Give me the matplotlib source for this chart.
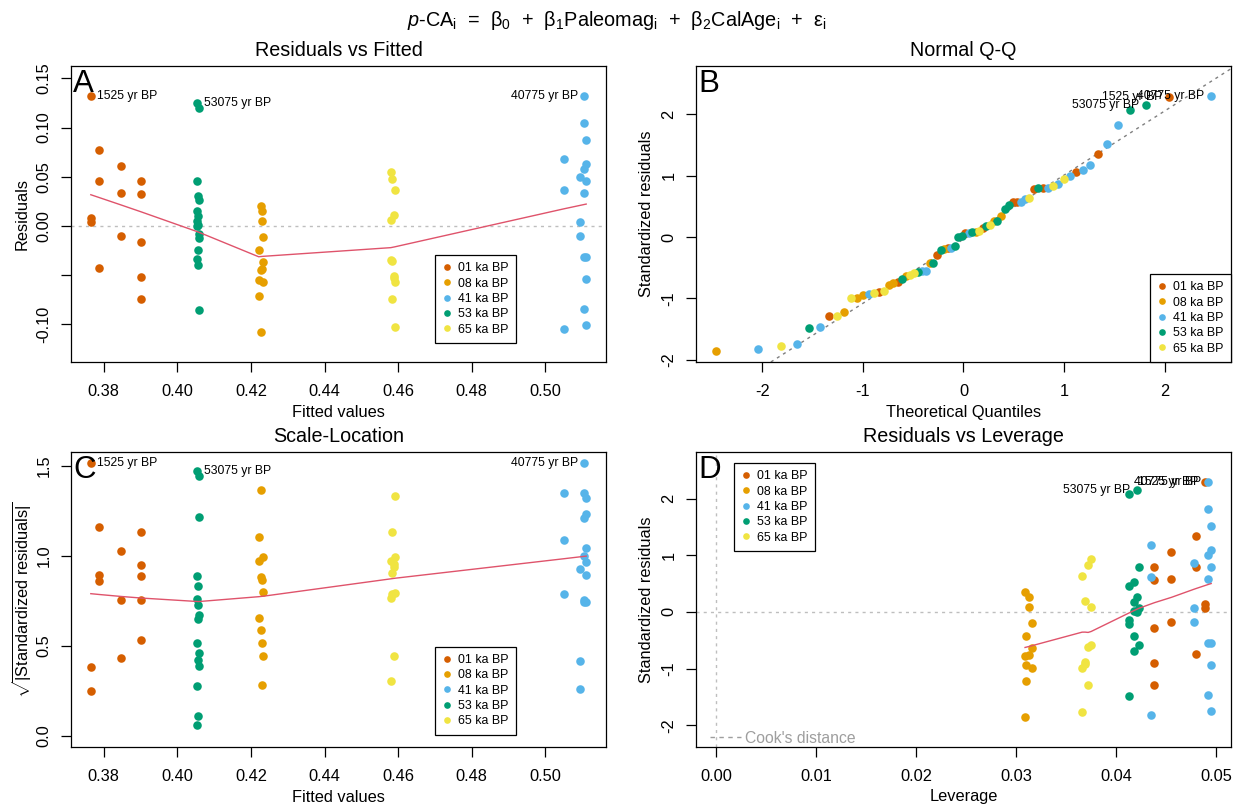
import numpy as np
import matplotlib
matplotlib.use("Agg")
import matplotlib.pyplot as plt
from matplotlib.lines import Line2D
from statistics import NormalDist

plt.rcParams['font.family'] = ['Liberation Sans', 'DejaVu Sans']
plt.rcParams['mathtext.fontset'] = 'custom'
plt.rcParams['mathtext.rm'] = 'Liberation Sans'
plt.rcParams['mathtext.it'] = 'Liberation Sans:italic'
plt.rcParams['mathtext.bf'] = 'Liberation Sans:bold'

# ------------------------------------------------------------------ data
group_names = ["01 ka BP", "08 ka BP", "41 ka BP", "53 ka BP", "65 ka BP"]
group_colors = ["#D55E00", "#E69F00", "#56B4E9", "#009E73", "#F0E442"]

fitted_01ka = [0.3765, 0.3765, 0.3765, 0.3788, 0.3788, 0.3788, 0.3847, 0.3847, 0.3847,
               0.3902, 0.3902, 0.3902, 0.3902, 0.3902]
resid_01ka = [0.1318, 0.0085, 0.0036, 0.0775, 0.0460, -0.0425, 0.0610, 0.0330, -0.0107,
              0.0455, 0.0328, -0.0165, -0.0520, -0.0743]
lev_01ka = [0.0489, 0.0489, 0.0489, 0.0480, 0.0480, 0.0480, 0.04553, 0.04553, 0.04553,
            0.04382, 0.04382, 0.04382, 0.04382, 0.04382]

fitted_08ka = [0.4227, 0.4227, 0.4227, 0.4221, 0.4221, 0.4221, 0.4229, 0.4229, 0.4229,
               0.4233, 0.4233, 0.4233]
resid_08ka = [0.0200, -0.0452, -0.1080, -0.0250, -0.0548, -0.0712, 0.0155, 0.0047, -0.0437,
              -0.0115, -0.0370, -0.0575]
lev_08ka = [0.0309, 0.0309, 0.0309, 0.0310, 0.0310, 0.0310, 0.0313, 0.0313, 0.0313,
            0.03157, 0.03157, 0.03157]

fitted_41ka = [0.5050, 0.5050, 0.5050, 0.5094, 0.5094, 0.5094,
               0.5106, 0.5106, 0.5106, 0.5106, 0.5106, 0.5106,
               0.5111, 0.5111, 0.5111, 0.5111, 0.5111, 0.5111]
resid_41ka = [0.0680, 0.0360, -0.1050, 0.0496, 0.0040, -0.0100,
              0.1322, 0.1050, 0.0575, 0.0330, -0.0318, -0.0840,
              0.0870, 0.0625, 0.0460, -0.0320, -0.0535, -0.1005]
lev_41ka = [0.0435, 0.0435, 0.0435, 0.0478, 0.0478, 0.0478,
            0.0492, 0.0492, 0.0492, 0.0492, 0.0492, 0.0492,
            0.0495, 0.0495, 0.0495, 0.0495, 0.0495, 0.0495]

fitted_53ka = [0.4058, 0.4058, 0.4058, 0.4058, 0.4058, 0.4056, 0.4056, 0.4056, 0.4056, 0.4056,
               0.4054, 0.4054, 0.4054, 0.4053, 0.4053, 0.4053]
resid_53ka = [0.1200, 0.0262, -0.0087, -0.0122, -0.0853, 0.0306, 0.0104, 0.0007, -0.0244, -0.0400,
              0.1245, 0.0155, -0.0002, 0.0457, 0.0045, -0.0333]
lev_53ka = [0.0413, 0.0413, 0.0413, 0.0413, 0.0413, 0.0418, 0.0418, 0.0418, 0.0418, 0.0418,
            0.0421, 0.0421, 0.0421, 0.0423, 0.0423, 0.0423]

fitted_65ka = [0.4580, 0.4580, 0.4580, 0.4584, 0.4584, 0.4584, 0.4588, 0.4588, 0.4588,
               0.4591, 0.4591, 0.4591]
resid_65ka = [0.0545, 0.0055, -0.0342, 0.0477, -0.0360, -0.0745, 0.0113, -0.0508, -0.0530,
              0.0365, -0.0575, -0.1025]
lev_65ka = [0.0375, 0.0375, 0.0375, 0.0372, 0.0372, 0.0372, 0.0369, 0.0369, 0.0369,
            0.0366, 0.0366, 0.0366]

# names of the observations that get identified (group, index within group)
id_names = {(0, 0): "1525 yr BP", (3, 10): "53075 yr BP", (2, 6): "40775 yr BP"}

n_coef = 3

xticks_fit = [0.38, 0.40, 0.42, 0.44, 0.46, 0.48, 0.50]
yticks_res = [-0.10, -0.05, 0.00, 0.05, 0.10, 0.15]
yticklabels_res = ["-0.10", "", "0.00", "0.05", "0.10", "0.15"]
ticks_std = [-2, -1, 0, 1, 2]
yticks_sl = [0.0, 0.5, 1.0, 1.5]
xticks_lev = [0.00, 0.01, 0.02, 0.03, 0.04, 0.05]

# ------------------------------------------------------------------ derived
fit_groups = [fitted_01ka, fitted_08ka, fitted_41ka, fitted_53ka, fitted_65ka]
res_groups = [resid_01ka, resid_08ka, resid_41ka, resid_53ka, resid_65ka]
lev_groups = [lev_01ka, lev_08ka, lev_41ka, lev_53ka, lev_65ka]

fit = np.concatenate([np.asarray(g, float) for g in fit_groups])
res = np.concatenate([np.asarray(g, float) for g in res_groups])
lev = np.concatenate([np.asarray(g, float) for g in lev_groups])
gidx = np.concatenate([np.full(len(g), k) for k, g in enumerate(fit_groups)])
names = []
for k, g in enumerate(fit_groups):
    for j in range(len(g)):
        names.append(id_names.get((k, j)))
n = len(res)
sigma = np.sqrt(np.sum(res ** 2) / (n - n_coef))
rstd = res / (sigma * np.sqrt(1 - lev))
sqrt_abs = np.sqrt(np.abs(rstd))

nd = NormalDist()
pp = (np.arange(1, n + 1) - 0.5) / n
qs = np.array([nd.inv_cdf(p) for p in pp])
qx = np.empty(n)
qx[np.argsort(rstd, kind='stable')] = qs


def r_lowess(x, y, f=2 / 3, iters=3):
    x = np.asarray(x, float)
    y = np.asarray(y, float)
    o = np.argsort(x, kind='stable')
    x = x[o]
    y = y[o]
    nn = len(x)
    rng = x[-1] - x[0]
    delta = 0.01 * rng
    ns = max(2, min(nn, int(f * nn + 1e-7)))
    ys = np.zeros(nn)
    w = np.zeros(nn)
    state = {'rw': np.ones(nn)}

    def lowest(xs, nleft, nright, userw):
        rw = state['rw']
        h = max(xs - x[nleft], x[nright] - xs)
        h9 = 0.999 * h
        h1 = 0.001 * h
        a = 0.0
        j = nleft
        while j < nn:
            w[j] = 0.0
            r = abs(x[j] - xs)
            if r <= h9:
                if r <= h1:
                    w[j] = 1.0
                else:
                    w[j] = (1 - (r / h) ** 3) ** 3
                if userw:
                    w[j] *= rw[j]
                a += w[j]
            elif x[j] > xs:
                break
            j += 1
        nrt = j - 1
        if a <= 0:
            return None
        sl = slice(nleft, nrt + 1)
        w[sl] /= a
        if h > 0:
            a = np.sum(w[sl] * x[sl])
            b = xs - a
            c = np.sum(w[sl] * (x[sl] - a) ** 2)
            if np.sqrt(c) > 0.001 * rng:
                b /= c
                w[sl] *= (b * (x[sl] - a) + 1.0)
        return np.sum(w[sl] * y[sl])

    it = 1
    while it <= iters + 1:
        nleft, nright, last, i = 0, ns - 1, -1, 0
        while True:
            if nright < nn - 1:
                d1 = x[i] - x[nleft]
                d2 = x[nright + 1] - x[i]
                if d1 > d2:
                    nleft += 1
                    nright += 1
                    continue
            v = lowest(x[i], nleft, nright, it > 1)
            ys[i] = y[i] if v is None else v
            if last < i - 1:
                denom = x[i] - x[last]
                for j in range(last + 1, i):
                    alpha = (x[j] - x[last]) / denom
                    ys[j] = alpha * ys[i] + (1 - alpha) * ys[last]
            last = i
            cut = x[last] + delta
            i = last + 1
            while i < nn:
                if x[i] > cut:
                    break
                if x[i] == x[last]:
                    ys[i] = ys[last]
                    last = i
                i += 1
            i = max(last + 1, i - 1)
            if last >= nn - 1:
                break
        resid = y - ys
        sc = np.sum(np.abs(resid)) / nn
        if it > iters:
            break
        ar = np.abs(resid)
        srt = np.sort(ar)
        m1 = nn // 2
        if nn % 2 == 0:
            cmad = 3 * (srt[m1] + srt[nn - m1 - 1])
        else:
            cmad = 6 * srt[m1]
        if cmad < 1e-7 * sc:
            break
        c9 = 0.999 * cmad
        c1 = 0.001 * cmad
        state['rw'] = np.where(ar <= c1, 1.0, np.where(ar <= c9, (1 - (ar / cmad) ** 2) ** 2, 0.0))
        it += 1
    return x, ys


def ext(lo, hi, f):
    d = (hi - lo) * f
    return lo - d, hi + d


# ------------------------------------------------------------------ figure
W, H = 1234, 809
fig = plt.figure(figsize=(W / 100, H / 100), dpi=100)

LEFT_X = (71, 606)
RIGHT_X = (696, 1231)
TOP_Y = (66, 362)
BOT_Y = (452, 747)


def make_ax(xr, yr):
    return fig.add_axes([xr[0] / W, 1 - yr[1] / H, (xr[1] - xr[0]) / W, (yr[1] - yr[0]) / H])


axA = make_ax(LEFT_X, TOP_Y)
axB = make_ax(RIGHT_X, TOP_Y)
axC = make_ax(LEFT_X, BOT_Y)
axD = make_ax(RIGHT_X, BOT_Y)

SMOOTH = "#DF536B"
ZERO = "#BEBEBE"
DOT = (0, (2.2, 3.0))
BASE = 11.8


def style(ax, xr, yr, xticks, xlabels, yticks, ylabels, xlab, ylab, title, letter):
    wpx = xr[1] - xr[0]
    hpx = yr[1] - yr[0]
    ax.set_xticks(xticks)
    ax.set_xticklabels(xlabels)
    ax.set_yticks(yticks)
    ax.set_yticklabels(ylabels)
    ax.tick_params(direction='out', length=7, width=0.9, labelsize=BASE, top=False, right=False,
                   colors='black')
    ax.tick_params(axis='x', pad=8.6)
    ax.tick_params(axis='y', pad=7.2)
    for lab in ax.get_yticklabels():
        lab.set_rotation(90)
        lab.set_va('center')
        lab.set_ha('right')
    for s in ax.spines.values():
        s.set_linewidth(0.9)
        s.set_color('black')
    ax.set_xlabel(xlab, fontsize=BASE)
    ax.set_ylabel(ylab, fontsize=BASE)
    ax.xaxis.set_label_coords(0.5, -50 / hpx)
    ax.yaxis.set_label_coords(-49 / wpx, 0.5)
    ax.xaxis.label.set_va('center')
    ax.yaxis.label.set_va('center')
    ax.set_title(title, fontsize=14.2, y=1 + 16 / hpx, va='center', pad=0)
    ax.text(2 / wpx, 1 - 3 / hpx, letter, transform=ax.transAxes, ha='left', va='top',
            fontsize=22.5, zorder=6)


def scatter(ax, x, y):
    for k in range(len(group_names)):
        m = gidx == k
        ax.scatter(x[m], y[m], s=38, c=group_colors[k], linewidths=0, zorder=3)


def id_labels(ax, x, y, key):
    top = np.argsort(-np.abs(key), kind='stable')[:3]
    mid = 0.5 * (x.min() + x.max())
    for i in top:
        if names[i] is None:
            continue
        if x[i] > mid:
            ax.annotate(names[i], (x[i], y[i]), xytext=(-4.8, 0), textcoords='offset points',
                        ha='right', va='center', fontsize=8.8, zorder=5)
        else:
            ax.annotate(names[i], (x[i], y[i]), xytext=(4.8, 0), textcoords='offset points',
                        ha='left', va='center', fontsize=8.8, zorder=5)


def group_legend(ax, loc, anchor):
    handles = [Line2D([], [], marker='o', ls='none', color=c, markersize=4.8, markeredgewidth=0)
               for c in group_colors]
    leg = ax.legend(handles, group_names, loc=loc, bbox_to_anchor=anchor, frameon=True,
                    fancybox=False, edgecolor='black', framealpha=1, fontsize=8.9,
                    handlelength=0.7, handletextpad=0.55, borderpad=0.6, labelspacing=0.27,
                    borderaxespad=0)
    leg.get_frame().set_linewidth(0.9)
    leg.set_zorder(7)
    return leg


# ---- A: Residuals vs Fitted
axA.set_xlim(*ext(fit.min(), fit.max(), 0.04))
axA.set_ylim(*ext(*ext(res.min(), res.max(), 0.08), 0.04))
scatter(axA, fit, res)
lx, ly = r_lowess(fit, res)
axA.plot(lx, ly, color=SMOOTH, lw=1.0, zorder=4)
axA.axhline(0, color=ZERO, lw=1.0, ls=DOT, zorder=2)
id_labels(axA, fit, res, res)
style(axA, LEFT_X, TOP_Y, xticks_fit, ["%.2f" % t for t in xticks_fit], yticks_res,
      yticklabels_res, "Fitted values", "Residuals", "Residuals vs Fitted", "A")
group_legend(axA, 'upper left', ((435 - 71) / 535, 1 - (255 - 66) / 296))

# ---- B: Normal Q-Q
axB.set_xlim(*ext(qx.min(), qx.max(), 0.04))
ylo, yhi = rstd.min(), rstd.max()
axB.set_ylim(*ext(ylo, yhi + 0.075 * (yhi - ylo), 0.04))
scatter(axB, qx, rstd)
yq = np.quantile(rstd, [0.25, 0.75])
xq = np.array([nd.inv_cdf(0.25), nd.inv_cdf(0.75)])
slope = (yq[1] - yq[0]) / (xq[1] - xq[0])
icpt = yq[0] - slope * xq[0]
axB.axline((0, icpt), slope=slope, color="#7F7F7F", lw=1.0, ls=DOT, zorder=2)
id_labels(axB, qx, rstd, rstd)
style(axB, RIGHT_X, TOP_Y, ticks_std, [str(t) for t in ticks_std], ticks_std,
      [str(t) for t in ticks_std], "Theoretical Quantiles", "Standardized residuals",
      "Normal Q-Q", "B")
group_legend(axB, 'lower right', (1, 0))

# ---- C: Scale-Location
axC.set_xlim(*ext(fit.min(), fit.max(), 0.04))
axC.set_ylim(*ext(0, sqrt_abs.max(), 0.04))
scatter(axC, fit, sqrt_abs)
lx, ly = r_lowess(fit, sqrt_abs)
axC.plot(lx, ly, color=SMOOTH, lw=1.0, zorder=4)
id_labels(axC, fit, sqrt_abs, rstd)
style(axC, LEFT_X, BOT_Y, xticks_fit, ["%.2f" % t for t in xticks_fit], yticks_sl,
      ["%.1f" % t for t in yticks_sl], "Fitted values",
      r"$\sqrt{|\mathrm{Standardized\ residuals}|}$", "Scale-Location", "C")
group_legend(axC, 'upper left', ((435 - 71) / 535, 1 - (646.7 - 452) / 295))

# ---- D: Residuals vs Leverage
axD.set_xlim(*ext(0, lev.max(), 0.04))
axD.set_ylim(*ext(*ext(rstd.min(), rstd.max(), 0.08), 0.04))
axD.axhline(0, color=ZERO, lw=1.0, ls=DOT, zorder=2)
axD.axvline(0, color=ZERO, lw=1.0, ls=DOT, zorder=2)
scatter(axD, lev, rstd)
lx, ly = r_lowess(lev, rstd)
axD.plot(lx, ly, color=SMOOTH, lw=1.0, zorder=4)
id_labels(axD, lev, rstd, rstd)
style(axD, RIGHT_X, BOT_Y, xticks_lev, ["%.2f" % t for t in xticks_lev], ticks_std,
      [str(t) for t in ticks_std], "Leverage", "Standardized residuals",
      "Residuals vs Leverage", "D")
legD = group_legend(axD, 'upper left', ((734 - 696) / 535, 1 - (463 - 452) / 295))
axD.add_artist(legD)
cook = axD.legend([Line2D([], [], color="#9E9E9E", lw=1.0, ls=(0, (3.2, 3.2)))],
                  ["Cook's distance"], loc='lower left', bbox_to_anchor=(14 / 535, 0.004),
                  frameon=False, fontsize=11.3, labelcolor="#9E9E9E", handlelength=2.0,
                  handletextpad=0.2, borderpad=0, borderaxespad=0)

# ---- overall title
fig.text(0.5, 1 - 20 / H,
         r"$p$-CA$_\mathrm{i}$  =  β$_0$  +  β$_1$Paleomag$_\mathrm{i}$  +  β$_2$CalAge$_\mathrm{i}$  +  ε$_\mathrm{i}$",
         ha='center', va='center', fontsize=14.3)

fig.savefig("out.png", dpi=100)
